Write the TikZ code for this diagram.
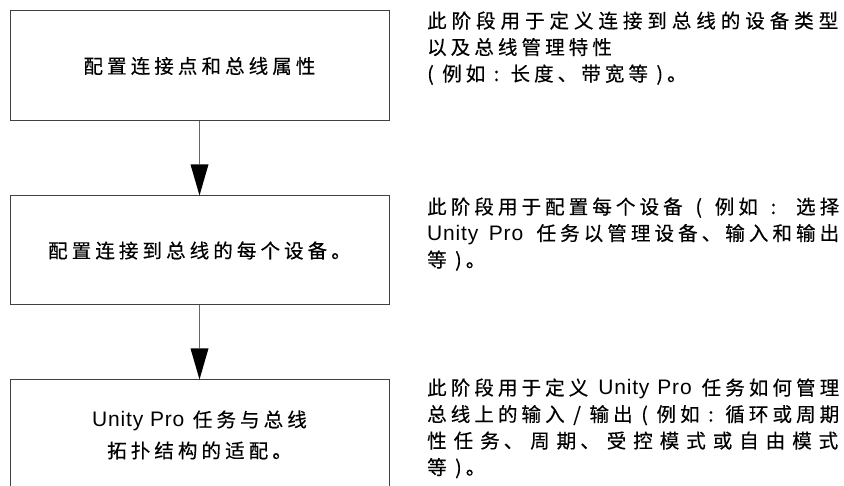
\documentclass[tikz,border=0pt]{standalone}
\usepackage{fontspec}
\usetikzlibrary{arrows.meta}
\newfontfamily\cjk[LetterSpace=21,FakeBold=0.4]{Noto Sans CJK SC}
\newfontfamily\lat[LetterSpace=4]{Liberation Sans}
\newcommand{\UP}{{\lat\fontsize{21}{26}\selectfont Unity Pro}}
\newcommand{\gp}{\hskip 0pt plus 1fil\relax}
\def\J#1{\Jloop#1\Jend}
\def\Jend{\Jend}
\def\Jloop#1{\ifx#1\Jend\unskip\else#1\gp\expandafter\Jloop\fi}
\tikzset{
  stepbox/.style={draw=black!75, line width=1pt, minimum width=379pt, inner sep=0pt,
    align=center, font=\cjk\fontsize{19.5}{31}\selectfont},
  rtext/.style={anchor=base west, inner sep=0pt, font=\cjk\fontsize{19.5}{26.5}\selectfont},
  flow/.style={draw=black!60, line width=1pt,
    -{Triangle[width=18pt,length=31pt,color=black,fill=black,line width=0pt]}}
}
\begin{document}
\begin{tikzpicture}[x=1pt,y=-1pt]
\useasboundingbox (0,0) rectangle (844,486);
\clip (0,0) rectangle (844,486);
\node[stepbox, minimum height=110pt] (b1) at (199.5,66) {配置连接点和总线属性};
\node[stepbox, minimum height=109pt] (b2) at (199.5,250.5) {配置连接到总线的每个设备。};
\node[stepbox, minimum height=110pt] (b3) at (199.5,435) {\UP{} 任务与总线\\拓扑结构的适配。};
\draw[flow] (b1.south) -- (b2.north);
\draw[flow] (b2.south) -- (b3.north);
\node[rtext] (t1) at (427,28) {\vtop{%
  \hbox to 411pt{\J{此阶段用于定义连接到总线的设备类型}}%
  \hbox{以及总线管理特性}%
  \hbox{( 例如 : 长度、带宽等 )。}}};
\node[rtext] (t2) at (427,214) {\vtop{%
  \hbox to 412pt{此阶段用于配置每个设备 ( 例如 : 选择}%
  \hbox to 412pt{\UP{} 任务以管理设备、输入和输出}%
  \hbox{等 )。}}};
\node[rtext] (t3) at (427,395) {\vtop{%
  \hbox to 412pt{此阶段用于定义 \UP{} 任务如何管理}%
  \hbox to 412pt{总线上的输入 / 输出 ( 例如 : 循环或周期}%
  \hbox to 411pt{性\gp 任\gp 务、\gp 周\gp 期、\gp 受\gp 控\gp 模\gp 式\gp 或\gp 自\gp 由\gp 模\gp 式}%
  \hbox{等 )。}}};
\end{tikzpicture}
\end{document}
